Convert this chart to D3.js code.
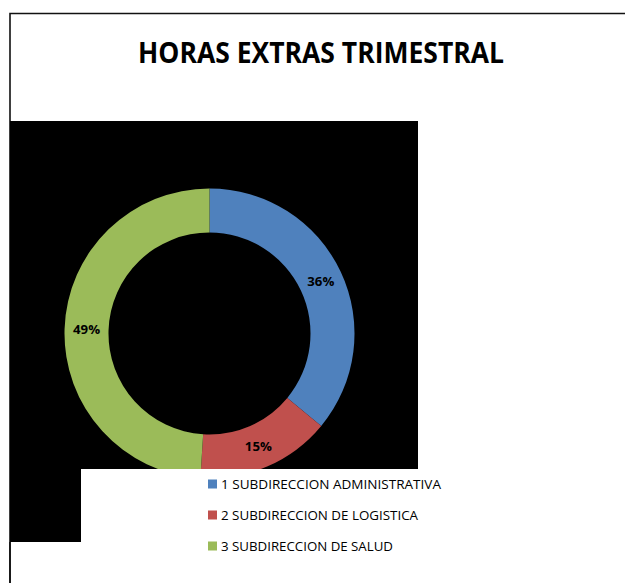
<!DOCTYPE html>
<html><head><meta charset="utf-8">
<script src="https://cdn.jsdelivr.net/npm/d3@7"></script>
<style>html,body{margin:0;padding:0;background:#fff;overflow:hidden}</style>
</head><body>
<svg id="c" width="625" height="583"></svg>
<script>
const categories = ["1 SUBDIRECCION ADMINISTRATIVA", "2 SUBDIRECCION DE LOGISTICA", "3 SUBDIRECCION DE SALUD"];
const values = [36, 15, 49];
const colors = ["#4F81BD", "#C0504D", "#9BBB59"];
const title = "HORAS EXTRAS TRIMESTRAL";

const svg = d3.select("#c");
const font = "'Open Sans', 'Liberation Sans', sans-serif";

// frame
svg.append("rect").attr("x", 0).attr("y", 0).attr("width", 625).attr("height", 583).attr("fill", "#fff");
svg.append("path").attr("d", "M10,583 V13.5 H625").attr("fill", "none").attr("stroke", "#111").attr("stroke-width", 1.6);

// black plot area
svg.append("rect").attr("x", 10).attr("y", 121).attr("width", 408).attr("height", 421).attr("fill", "#000");

// title
svg.append("text").attr("x", 321).attr("y", 63).attr("text-anchor", "middle")
  .attr("font-family", font).attr("font-weight", "bold").attr("font-size", 28).attr("fill", "#000")
  .attr("textLength", 366).attr("lengthAdjust", "spacingAndGlyphs").text(title);

// donut
const cx = 209.5, cy = 333.5, rOut = 145, rIn = 101;
const pie = d3.pie().sort(null).value(d => d)(values);
const arc = d3.arc().innerRadius(rIn).outerRadius(rOut);
const g = svg.append("g").attr("transform", `translate(${cx},${cy})`);
g.selectAll("path.s").data(pie).join("path").attr("class", "s")
  .attr("d", arc).attr("fill", (d, i) => colors[i]);

const total = d3.sum(values);
g.selectAll("text.l").data(pie).join("text").attr("class", "l")
  .attr("transform", d => { const c = arc.centroid(d); return `translate(${c[0]},${c[1]})`; })
  .attr("text-anchor", "middle").attr("dy", "0.36em")
  .attr("font-family", font).attr("font-weight", "bold").attr("font-size", 13).attr("fill", "#000")
  .attr("textLength", 27).attr("lengthAdjust", "spacingAndGlyphs")
  .text(d => Math.round(d.data / total * 100) + "%");

// legend white box overlapping plot area
svg.append("rect").attr("x", 81).attr("y", 469).attr("width", 400).attr("height", 114).attr("fill", "#fff");
svg.append("path").attr("d", "M10,583 V542").attr("stroke", "#111").attr("stroke-width", 1.6);

const legY = d3.scalePoint().domain(categories).range([484, 546]);
const widths = [220, 197, 172];
const lg = svg.append("g");
categories.forEach((c, i) => {
  lg.append("rect").attr("x", 208).attr("y", legY(c) - 4.5).attr("width", 9).attr("height", 9).attr("fill", colors[i]);
  lg.append("text").attr("x", 221).attr("y", legY(c)).attr("dy", "0.36em")
    .attr("font-family", font).attr("font-size", 13.5).attr("fill", "#000")
    .attr("textLength", widths[i]).attr("lengthAdjust", "spacingAndGlyphs").text(c);
});
</script>
</body></html>
